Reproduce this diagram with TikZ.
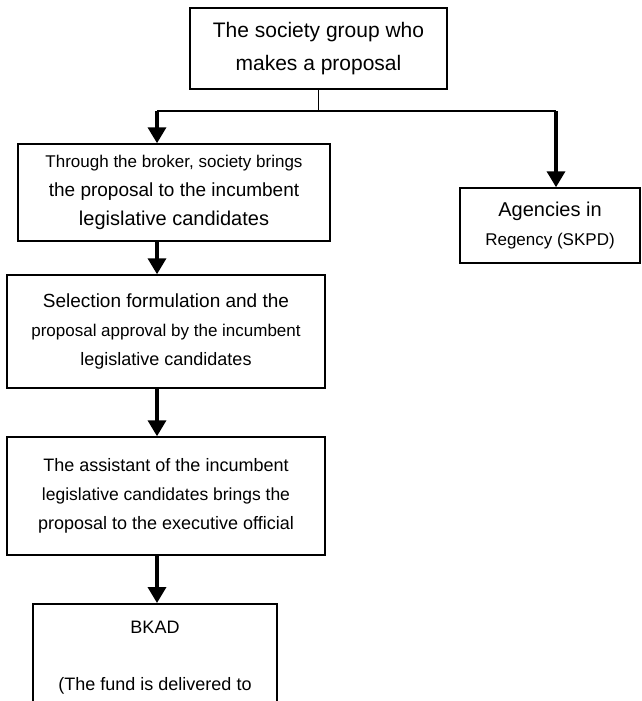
\documentclass[tikz,border=0pt]{standalone}
\usepackage{fontspec}
\setmainfont{Liberation Sans}
\usetikzlibrary{arrows.meta,positioning}
\newcommand{\fsz}[2]{{\fontsize{#1}{29}\selectfont #2}}
\tikzset{
    stage/.style={
        draw, rectangle, line width=1.5pt,
        inner sep=0pt, align=center, text=black,
        font=\fontsize{18}{29}\selectfont
    },
    flow/.style={-{Triangle[length=16pt,width=18pt]}, line width=3.5pt},
    branch/.style={line width=1.5pt}
}
\begin{document}
\begin{tikzpicture}[x=1pt,y=-1pt]
	\clip (0,0) rectangle (642,701);

	\node[stage,minimum width=257pt,minimum height=81pt,font=\fontsize{21}{33}\selectfont]
	    (society) at (318.5,48.5) {The society group who\\makes a proposal};
	\node[stage,minimum width=312pt,minimum height=97pt] (broker) at (174,192.5)
	    {\fsz{17}{Through the broker, society brings}\\
	     \fsz{19}{the proposal to the incumbent}\\
	     \fsz{20}{legislative candidates}};
	\node[stage,minimum width=180pt,minimum height=75pt,font=\fontsize{20}{29}\selectfont]
	    (agency) at (550,225.5) {Agencies in\\\fsz{17}{Regency (SKPD)}};
	\node[stage,minimum width=318pt,minimum height=113pt] (selection) at (166,331.5)
	    {\fsz{19}{Selection formulation and the}\\
	     \fsz{17}{proposal approval by the incumbent}\\
	     \fsz{18}{legislative candidates}};
	\node[stage,minimum width=318pt,minimum height=118pt] (assistant) at (166,496)
	    {The assistant of the incumbent\\
	     \fsz{17.5}{legislative candidates brings the}\\
	     proposal to the executive official};
	\node[stage,minimum width=244pt,minimum height=108pt,anchor=north] (bkad) at (155,603)
	    {BKAD\\[28pt](The fund is delivered to};

	% forks
	\coordinate (lfork) at (157,111);
	\coordinate (rfork) at (556,111);
	\draw[branch] (society.south) -- (society.south |- lfork);
	\draw[branch] (lfork) -- (rfork);
	\draw[flow] (lfork) -- (broker.north -| lfork);
	\draw[flow] (rfork) -- (agency.north -| rfork);

	% main line
	\draw[flow] (broker.south -| lfork) -- (selection.north -| lfork);
	\draw[flow] (selection.south -| lfork) -- (assistant.north -| lfork);
	\draw[flow] (assistant.south -| lfork) -- (bkad.north -| lfork);
\end{tikzpicture}
\end{document}
